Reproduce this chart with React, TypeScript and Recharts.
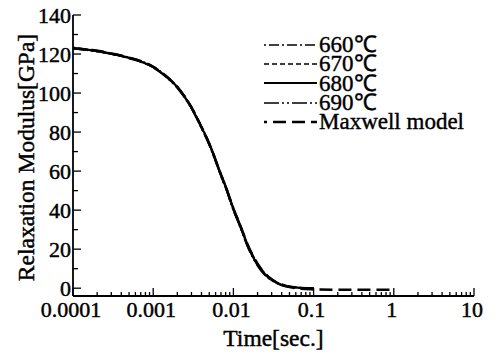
import React from 'react';
import { LineChart, Line, XAxis, YAxis, Legend } from 'recharts';

// ---- data ----
const times = [0.0001, 0.0002, 0.0003, 0.0005, 0.0007, 0.001, 0.0015, 0.002, 0.003, 0.004, 0.005, 0.006, 0.007, 0.008, 0.01, 0.012, 0.015, 0.02, 0.025, 0.03, 0.04, 0.05, 0.07, 0.1, 0.2, 0.5, 1];

const t660 = [123.4, 121.8, 120.5, 118.3, 116.5, 113.6, 108.4, 103.4, 93, 83, 74.5, 66.2, 58.7, 52.7, 41.3, 33.3, 22.8, 12.7, 7.5, 4.7, 2.0, 1.0, 0.3, 0.1];
const t670 = [123, 121.4, 120.1, 117.9, 116.1, 113.2, 107.8, 102.8, 92.3, 82.2, 73.6, 65.3, 57.8, 51.8, 40.3, 32.3, 21.8, 11.8, 6.7, 4.1, 1.6, 0.7, 0.2, 0];
const t680 = [123, 121.5, 120.2, 118, 116.2, 113.3, 108, 103, 92.5, 82.5, 74, 65.5, 58, 52, 40.5, 32.5, 22, 12, 7, 4.3, 1.7, 0.8, 0.2, 0];
const t690 = [122.7, 121.2, 119.9, 117.7, 115.9, 113, 107.6, 102.5, 92, 81.8, 73.2, 64.8, 57.2, 51.2, 39.7, 31.7, 21.2, 11.4, 6.4, 3.9, 1.4, 0.6, 0.1, 0];
const maxwell = [123, 121.6, 120.3, 118.1, 116.3, 113.4, 108.1, 103.1, 92.6, 82.6, 74, 65.6, 58.1, 52.1, 40.7, 32.8, 22.4, 12.5, 7.3, 4.5, 1.8, 0.6, -0.3, -0.6, -0.8, -0.8, -0.8];

const xMajorTicks = [0.0001, 0.001, 0.01, 0.1, 1, 10];
const xTickLabels = ['0.0001', '0.001', '0.01', '0.1', '1', '10'];
const yTicks = [0, 10, 20, 30, 40, 50, 60, 70, 80, 90, 100, 110, 120, 130, 140];
const yTickLabels = ['0', '20', '40', '60', '80', '100', '120', '140'];
const yMajorTicks = [0, 20, 40, 60, 80, 100, 120, 140];

const seriesDefs = [
  { key: 's660', name: '660\u2103', values: t660, dash: '2 3 10 3', width: 1.6 },
  { key: 's670', name: '670\u2103', values: t670, dash: '5 3', width: 1.6 },
  { key: 's680', name: '680\u2103', values: t680, dash: undefined as string | undefined, width: 2.2 },
  { key: 's690', name: '690\u2103', values: t690, dash: '15 3 2 3 2 3', width: 1.6 },
  { key: 'smax', name: 'Maxwell model', values: maxwell, dash: '13 6', width: 2.6 },
];

const data = times.map((t, i) => {
  const row: Record<string, number | null> = { t };
  seriesDefs.forEach((s) => {
    row[s.key] = i < s.values.length ? s.values[i] : null;
  });
  return row;
});

const xAllTicks: number[] = [];
xMajorTicks.forEach((m, i) => {
  xAllTicks.push(m);
  if (i < xMajorTicks.length - 1) {
    for (let k = 2; k <= 9; k++) xAllTicks.push(Number((m * k).toPrecision(3)));
  }
});

const FONT = '"Liberation Serif", "Times New Roman", serif';
const TXT_STROKE = 0.45;
const majorIdx = (v: number) => xMajorTicks.findIndex((m) => Math.abs(v - m) / m < 1e-6);

const BottomTick = (p: any) => {
  const i = majorIdx(p.payload.value);
  const len = i >= 0 ? 8 : 4;
  return (
    <g>
      <line x1={p.x} x2={p.x} y1={p.y} y2={p.y - len} stroke="#000" strokeWidth={1.3} />
      {i >= 0 && (
        <text x={p.x - 2} y={p.y + 21} textAnchor="middle" fontFamily={FONT} fontSize={22} fill="#000" stroke="#000" strokeWidth={TXT_STROKE}>
          {xTickLabels[i]}
        </text>
      )}
    </g>
  );
};

const TopTick = (p: any) => {
  const i = majorIdx(p.payload.value);
  const len = i >= 0 ? 8 : 4;
  return <line x1={p.x} x2={p.x} y1={p.y} y2={p.y + len} stroke="#000" strokeWidth={1.3} />;
};

const LeftTick = (p: any) => {
  const v = p.payload.value;
  const i = yMajorTicks.indexOf(v);
  const len = i >= 0 ? 8 : 5;
  return (
    <g>
      <line x1={p.x} x2={p.x + len} y1={p.y} y2={p.y} stroke="#000" strokeWidth={1.3} />
      {i >= 0 && (
        <text x={p.x - 2} y={p.y} textAnchor="end" dominantBaseline="central" fontFamily={FONT} fontSize={22} fill="#000" stroke="#000" strokeWidth={TXT_STROKE}>
          {yTickLabels[i]}
        </text>
      )}
    </g>
  );
};

const RightTick = (p: any) => (
  <line x1={p.x} x2={p.x - 6} y1={p.y} y2={p.y} stroke="#000" strokeWidth={1.3} />
);

const XLabel = (p: any) => {
  const vb = p.viewBox;
  return (
    <text x={vb.x + vb.width / 2} y={vb.y + 50} textAnchor="middle" fontFamily={FONT} fontSize={23.5} fill="#000" stroke="#000" strokeWidth={TXT_STROKE}>
      {p.value}
    </text>
  );
};

const YLabel = (p: any) => {
  const vb = p.viewBox;
  const cx = 26;
  const cy = vb.y + vb.height / 2 + 2;
  return (
    <text x={cx} y={cy} transform={`rotate(-90, ${cx}, ${cy})`} textAnchor="middle" dominantBaseline="central" fontFamily={FONT} fontSize={23.5} fill="#000" stroke="#000" strokeWidth={TXT_STROKE}>
      {p.value}
    </text>
  );
};

const LegendContent = () => (
  <div style={{ fontFamily: FONT, fontSize: 23, color: '#000', WebkitTextStroke: '0.4px #000' }}>
    {seriesDefs.map((s) => (
      <div key={s.key} style={{ display: 'flex', alignItems: 'center', height: 19.3, whiteSpace: 'nowrap' }}>
        <svg width={56} height={12} style={{ display: 'block' }}>
          <line
            x1={1}
            x2={54}
            y1={6}
            y2={6}
            stroke="#000"
            strokeWidth={s.width}
            strokeDasharray={s.dash}
            strokeDashoffset={s.key === 'smax' ? 10 : 0}
          />
        </svg>
        <span style={{ lineHeight: '19px' }}>{s.name}</span>
      </div>
    ))}
  </div>
);

const axisLineStyle = { stroke: '#000', strokeWidth: 1.8 };

export default function App() {
  return (
    <div style={{ position: 'absolute', left: 0, top: 0, background: '#fff' }}>
      <LineChart width={497} height={356} data={data} margin={{ top: 15, right: 23, bottom: 0, left: 0 }}>
        <XAxis
          dataKey="t"
          type="number"
          scale="log"
          domain={[0.0001, 10]}
          allowDataOverflow
          ticks={xAllTicks}
          interval={0}
          tickSize={0}
          tickMargin={0}
          tick={BottomTick}
          tickLine={false}
          axisLine={axisLineStyle}
          height={60}
          label={{ value: 'Time[sec.]', content: XLabel }}
        />
        <XAxis
          xAxisId="top"
          orientation="top"
          dataKey="t"
          type="number"
          scale="log"
          domain={[0.0001, 10]}
          allowDataOverflow
          ticks={xAllTicks}
          interval={0}
          tickSize={0}
          tickMargin={0}
          tick={TopTick}
          tickLine={false}
          axisLine={axisLineStyle}
          height={0}
        />
        <YAxis
          type="number"
          domain={[-4, 140]}
          allowDataOverflow
          ticks={yTicks}
          interval={0}
          tickSize={0}
          tickMargin={0}
          tick={LeftTick}
          tickLine={false}
          axisLine={axisLineStyle}
          width={73}
          label={{ value: 'Relaxation Modulus[GPa]', content: YLabel }}
        />
        <YAxis
          yAxisId="right"
          orientation="right"
          type="number"
          domain={[-4, 140]}
          allowDataOverflow
          ticks={yTicks}
          interval={0}
          tickSize={0}
          tickMargin={0}
          tick={RightTick}
          tickLine={false}
          axisLine={axisLineStyle}
          width={0}
        />
        {seriesDefs.map((s) => (
          <Line
            key={s.key}
            dataKey={s.key}
            name={s.name}
            type="monotone"
            stroke="#000"
            strokeWidth={s.width}
            strokeDasharray={s.dash}
            dot={false}
            activeDot={false}
            isAnimationActive={false}
            connectNulls={false}
          />
        ))}
        <Legend
          layout="vertical"
          align="center"
          verticalAlign="middle"
          content={LegendContent}
          wrapperStyle={{ left: 263, top: 35, width: 'auto' }}
        />
      </LineChart>
    </div>
  );
}
